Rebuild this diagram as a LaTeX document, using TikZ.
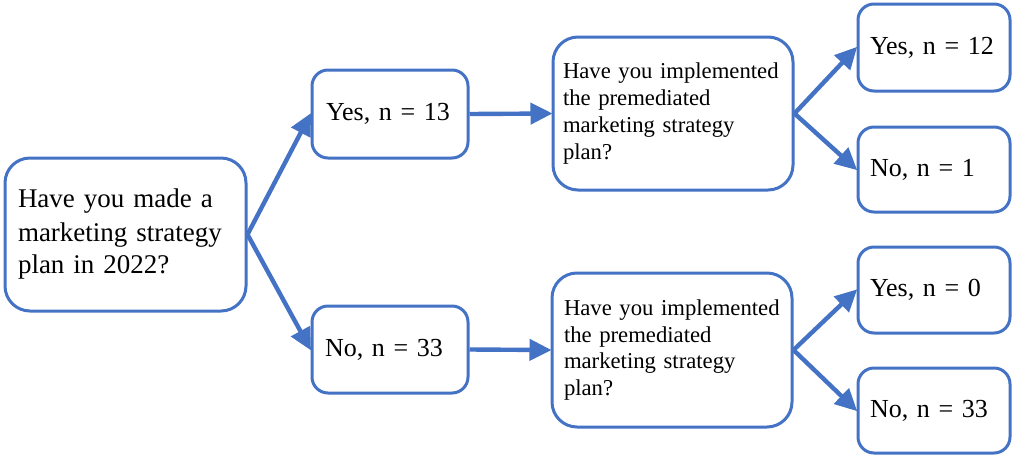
\documentclass[tikz,border=0pt]{standalone}
\usepackage{fontspec}
\setmainfont{Liberation Serif}
\usetikzlibrary{arrows.meta}
\definecolor{boxblue}{HTML}{4472C4}
\tikzset{
  box/.style={draw=boxblue, line width=3pt, fill=white, rectangle,
    align=left, inner ysep=0pt, font=\fontsize{26}{30}\selectfont},
  bigbox/.style={box, rounded corners=25pt},
  smallbox/.style={box, rounded corners=16pt},
  arr/.style={draw=boxblue, line width=4.4pt,
    -{Triangle[length=22pt,width=21pt]}, shorten >=-1pt}
}
\begin{document}
\begin{tikzpicture}[x=1pt,y=-1pt]
\useasboundingbox (0,0) rectangle (1012,456);
\node[bigbox, minimum width=241pt, minimum height=153pt, inner xsep=13pt,
  text width=215pt, font=\fontsize{27}{33}\selectfont] (A) at (125.5,234.5)
  {Have you made a\\marketing strategy\\plan in 2022?};
\node[smallbox, minimum width=156pt, minimum height=88pt, inner xsep=14pt,
  text width=128pt] (B) at (390,114) {Yes, n = 13};
\node[smallbox, minimum width=156pt, minimum height=87pt, inner xsep=13pt,
  text width=130pt] (C) at (390,349.5) {No, n = 33};
\node[bigbox, minimum width=240pt, minimum height=153pt, inner xsep=10pt,
  text width=220pt, font=\fontsize{22.7}{26.7}\selectfont] (D) at (673,113.5)
  {Have you implemented\\the premediated\\marketing strategy\\plan?};
\node[bigbox, minimum width=240pt, minimum height=154pt, inner xsep=10pt,
  text width=220pt, font=\fontsize{22.7}{26.7}\selectfont] (E) at (672,350)
  {\hspace*{2pt}Have you implemented\\\hspace*{2pt}the premediated\\\hspace*{2pt}marketing strategy\\\hspace*{2pt}plan?};
\node[smallbox, minimum width=152pt, minimum height=87pt, inner xsep=12pt,
  text width=128pt] (F) at (934,47.5) {Yes, n = 12};
\node[smallbox, minimum width=152pt, minimum height=85pt, inner xsep=12pt,
  text width=128pt] (G) at (934,169.5) {No, n = 1};
\node[smallbox, minimum width=152pt, minimum height=86pt, inner xsep=12pt,
  text width=128pt] (H) at (934,290) {Yes, n = 0};
\node[smallbox, minimum width=152pt, minimum height=85pt, inner xsep=12pt,
  text width=128pt] (I) at (934,410.5) {No, n = 33};
\draw[arr] (A.east) -- (B.west);
\draw[arr] (A.east) -- (C.west);
\draw[arr] (B.east) -- (D.west);
\draw[arr] (C.east) -- (E.west);
\draw[arr] (D.east) -- (F.west);
\draw[arr] (D.east) -- (G.west);
\draw[arr] (E.east) -- (H.west);
\draw[arr] (E.east) -- (I.west);
\end{tikzpicture}
\end{document}
